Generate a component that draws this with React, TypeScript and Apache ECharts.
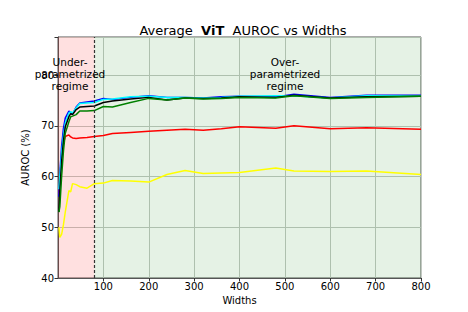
import React, { useEffect, useRef } from "react";
import * as echarts from "echarts";

const widths = [2, 4, 8, 12, 16, 24, 28, 32, 40, 48, 64, 80, 100, 120, 160, 200, 240, 280, 320, 360, 400, 480, 520, 600, 680, 800];
const yellowVals = [50.0, 48.0, 48.6, 50.5, 53.0, 57.2, 57.0, 58.6, 58.4, 58.0, 57.7, 58.6, 58.7, 59.2, 59.1, 58.9, 60.4, 61.2, 60.6, 60.7, 60.8, 61.7, 61.1, 61.0, 61.1, 60.4];
const redVals = [56.5, 60.0, 64.0, 66.5, 67.9, 68.2, 67.8, 67.6, 67.5, 67.6, 67.7, 67.9, 68.1, 68.5, 68.7, 68.9, 69.1, 69.3, 69.1, 69.4, 69.8, 69.5, 70.0, 69.4, 69.6, 69.3];
const blueVals = [56.0, 60.5, 66.0, 69.5, 71.5, 72.9, 72.6, 72.3, 73.7, 74.5, 74.7, 74.9, 75.4, 75.2, 75.6, 75.9, 75.6, 75.6, 75.5, 75.7, 75.8, 75.7, 76.2, 75.6, 76.0, 76.0];
const cyanVals = [57.5, 60.0, 64.5, 68.0, 70.5, 72.5, 72.8, 72.5, 73.5, 74.4, 74.5, 74.6, 75.2, 75.3, 75.7, 75.8, 75.6, 75.6, 75.5, 75.6, 75.8, 75.9, 75.9, 75.5, 75.9, 75.9];
const blackVals = [53.0, 57.0, 63.0, 67.0, 69.8, 71.8, 72.4, 72.2, 73.2, 73.7, 73.8, 73.9, 74.6, 74.9, 75.3, 75.6, 75.1, 75.5, 75.4, 75.5, 75.7, 75.6, 76.0, 75.5, 75.7, 75.8];
const greenVals = [53.0, 54.0, 60.0, 65.0, 68.5, 70.8, 71.8, 71.9, 72.2, 72.9, 72.9, 73.0, 73.8, 73.7, 74.6, 75.4, 75.1, 75.5, 75.3, 75.4, 75.6, 75.5, 75.9, 75.4, 75.6, 75.8];

const regimeSplit = 80;
const xMax = 800;

const FONT = "DejaVu Sans";

function mk(name: string, color: string, vals: number[], extra: any = {}) {
  return {
    name,
    type: "line",
    data: widths.map((w, i) => [w, vals[i]]),
    showSymbol: false,
    symbol: "none",
    lineStyle: { color, width: 1.5 },
    itemStyle: { color },
    z: 3,
    ...extra,
  };
}

export default function App() {
  const ref = useRef<HTMLDivElement>(null);
  useEffect(() => {
    document.body.style.margin = "0";
    if (!ref.current) return;
    const chart = echarts.init(ref.current, null, { renderer: "svg" });
    chart.setOption({
      animation: false,
      backgroundColor: "#ffffff",
      textStyle: { fontFamily: FONT },
      title: {
        text: "{n|Average  }{b|ViT}{n|  AUROC vs Widths}",
        left: 238,
        textAlign: "center",
        top: 19,
        textStyle: {
          fontWeight: "normal",
          rich: {
            n: { fontFamily: FONT, fontSize: 13, fontWeight: "normal", color: "#000" },
            b: { fontFamily: FONT, fontSize: 13, fontWeight: "bold", color: "#000" },
          },
        },
      },
      grid: {
        left: 58,
        right: 47,
        top: 37,
        bottom: 34,
        show: true,
        borderColor: "#555",
        borderWidth: 1,
        backgroundColor: "transparent",
      },
      xAxis: {
        type: "value",
        min: 0,
        max: xMax,
        interval: 100,
        name: "Widths",
        nameLocation: "middle",
        nameGap: 15,
        nameTextStyle: { fontFamily: FONT, fontSize: 10, color: "#000" },
        axisLine: { show: true, onZero: false, lineStyle: { color: "#555", width: 1 } },
        axisTick: { show: true, length: 3.5, lineStyle: { color: "#333" } },
        axisLabel: { fontFamily: FONT, fontSize: 10, color: "#000", margin: 3, showMinLabel: false },
        splitLine: { show: true, lineStyle: { color: "#c2c8c2", width: 1 } },
      },
      yAxis: {
        type: "value",
        min: 40,
        max: 87.5,
        interval: 10,
        name: "AUROC (%)",
        nameLocation: "middle",
        nameGap: 22,
        nameTextStyle: { fontFamily: FONT, fontSize: 10, color: "#000" },
        axisLine: { show: true, lineStyle: { color: "#555", width: 1 } },
        axisTick: { show: true, length: 3.5, lineStyle: { color: "#333" } },
        axisLabel: {
          fontFamily: FONT,
          fontSize: 10,
          color: "#000",
          margin: 4,
          formatter: (v: number) => (v % 10 === 0 ? String(v) : ""),
        },
        splitLine: { show: true, lineStyle: { color: "#c2c8c2", width: 1 } },
      },
      series: [
        {
          type: "line",
          data: [],
          silent: true,
          markArea: {
            silent: true,
            data: [
              [{ xAxis: 0, itemStyle: { color: "rgba(255,0,0,0.12)" } }, { xAxis: regimeSplit }],
              [{ xAxis: regimeSplit, itemStyle: { color: "rgba(0,128,0,0.10)" } }, { xAxis: xMax }],
            ],
          },
          markLine: {
            silent: true,
            symbol: "none",
            label: { show: false },
            lineStyle: { color: "#333", type: [3, 2], width: 1.2 },
            data: [{ xAxis: regimeSplit }],
          },
          z: 1,
        },
        mk("yellow", "#ffff00", yellowVals),
        mk("red", "#ff0000", redVals),
        mk("blue", "#0000ff", blueVals),
        mk("cyan", "#00ffff", cyanVals),
        mk("black", "#000000", blackVals),
        mk("green", "#008000", greenVals),
      ],
      graphic: [
        {
          type: "text",
          x: 70,
          y: 56,
          style: {
            text: "Under-\nparametrized\nregime",
            fontFamily: FONT,
            fontSize: 10.5,
            lineHeight: 12,
            align: "center",
            fill: "#000",
          },
          z: 10,
        },
        {
          type: "text",
          x: 285,
          y: 56,
          style: {
            text: "Over-\nparametrized\nregime",
            fontFamily: FONT,
            fontSize: 10.5,
            lineHeight: 12,
            align: "center",
            fill: "#000",
          },
          z: 10,
        },
      ],
    });
    return () => chart.dispose();
  }, []);
  return <div ref={ref} style={{ width: 468, height: 312 }} />;
}
